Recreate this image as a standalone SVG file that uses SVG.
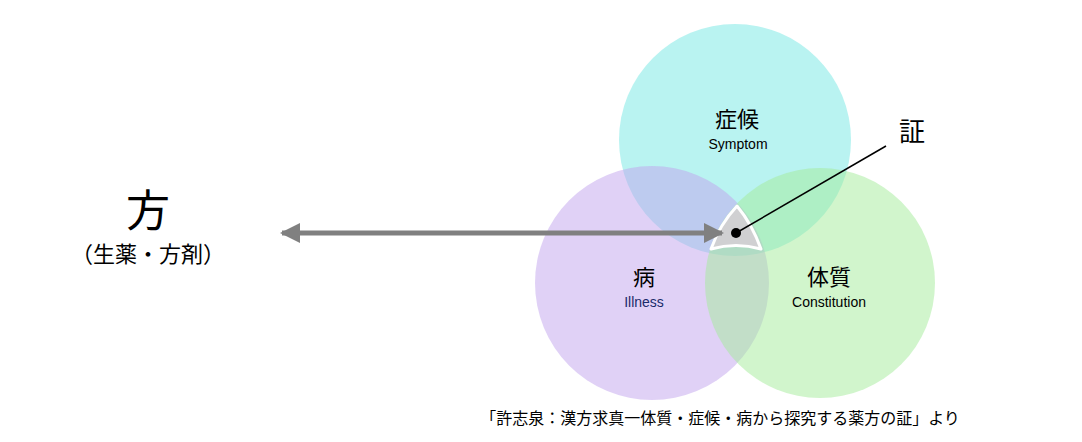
<svg xmlns="http://www.w3.org/2000/svg" width="1082" height="442" viewBox="0 0 1082 442">
<style>
text{font-family:"Noto Sans CJK JP","Liberation Sans",sans-serif;text-anchor:middle;fill:#000}
.en{font-family:"Liberation Sans",sans-serif;font-size:14px}
.c{opacity:0.5}
</style>
<defs>
<marker id="ah" viewBox="0 0 10 10" refX="9" refY="5" markerWidth="5" markerHeight="4" orient="auto-start-reverse" markerUnits="strokeWidth">
<path d="M0,0 L10,5 L0,10 z" fill="#808080"/>
</marker>
</defs>
<rect width="1082" height="442" fill="#fff"/>
<g id="symptom"><circle class="c" cx="735" cy="140" r="116" fill="#74e8e4"/></g>
<g id="illness"><circle class="c" cx="652" cy="283" r="117" fill="#c2a3ee"/></g>
<g id="constitution"><circle class="c" cx="820" cy="283" r="115" fill="#a3ec9a"/></g>
<g id="sho">
<path d="M737,206 Q752,224 761,249 Q736,242 711,249 Q720,224 737,206 Z" fill="#d0d0d2" stroke="#fff" stroke-width="3" stroke-linejoin="round"/>
<circle cx="736" cy="233" r="5" fill="#000"/>
<text x="912" y="141" font-size="26">証</text>
</g>
<g id="connectors">
<line x1="282" y1="233" x2="722" y2="233" stroke="#808080" stroke-width="5" marker-start="url(#ah)" marker-end="url(#ah)"/>
<line x1="736" y1="233" x2="886" y2="146" stroke="#000" stroke-width="1.5"/>
</g>
<g id="labels">
<text x="737" y="127" font-size="22">症候</text>
<text class="en" x="738" y="149">Symptom</text>
<text x="644" y="285" font-size="22">病</text>
<text class="en" x="644" y="307" fill="#1a2a6a" style="fill:#1a2a6a">Illness</text>
<text x="829" y="285" font-size="22">体質</text>
<text class="en" x="829" y="307">Constitution</text>
</g>
<g id="formula">
<text x="148" y="227" font-size="44">方</text>
<text x="148" y="262" font-size="22">（生薬・方剤）</text>
</g>
<text x="720" y="424" font-size="16">「許志泉：漢方求真一体質・症候・病から探究する薬方の証」より</text>
</svg>
